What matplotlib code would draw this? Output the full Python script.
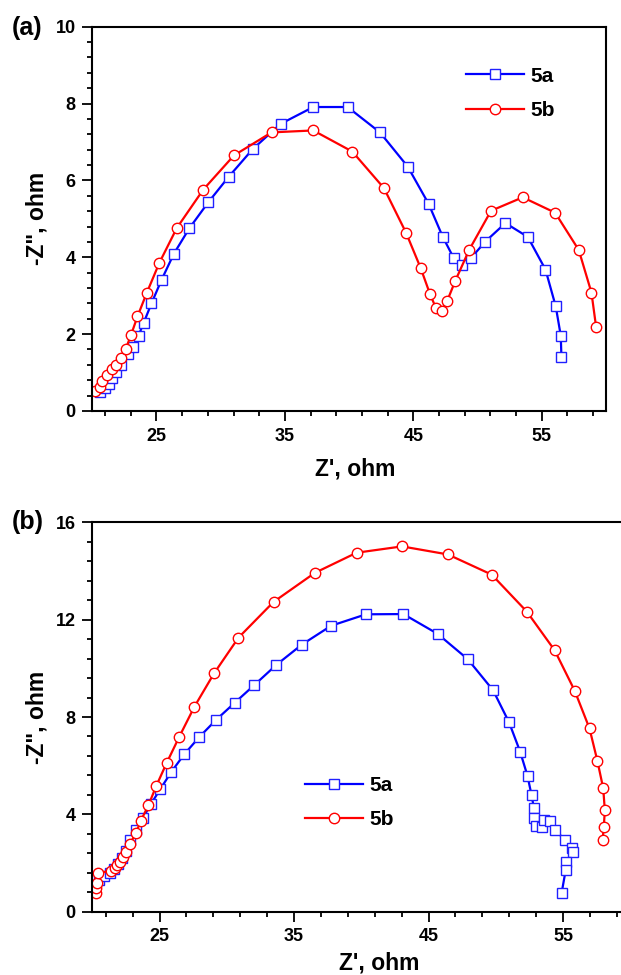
import numpy as np
import matplotlib
matplotlib.use("Agg")
import matplotlib.pyplot as plt
from matplotlib.ticker import FixedLocator, MultipleLocator

# panel (a) data
a_5a_x = [20.58, 20.96, 21.28, 21.54, 21.87, 22.26, 22.78, 23.17, 23.60, 24.01, 24.61,
          25.39, 26.35, 27.57, 29.03, 30.61, 32.48, 34.66, 37.21, 39.88, 42.40, 44.56,
          46.19, 47.28, 48.14, 48.79, 49.49, 50.61, 52.17, 53.91, 55.29, 56.09, 56.48, 56.53]
a_5a_y = [0.50, 0.59, 0.70, 0.85, 1.02, 1.20, 1.48, 1.67, 1.96, 2.30, 2.80,
          3.41, 4.09, 4.76, 5.43, 6.09, 6.81, 7.47, 7.91, 7.91, 7.25, 6.36,
          5.39, 4.54, 3.98, 3.80, 3.98, 4.41, 4.89, 4.53, 3.68, 2.72, 1.96, 1.41]

a_5b_x = [20.19, 20.60, 20.73, 21.12, 21.51, 21.85, 22.24, 22.60, 23.02, 23.52, 24.25,
          25.23, 26.58, 28.64, 31.03, 33.96, 37.21, 40.25, 42.71, 44.43, 45.57, 46.30,
          46.77, 47.20, 47.62, 48.27, 49.36, 51.05, 53.52, 56.04, 57.88, 58.87, 59.23]
a_5b_y = [0.53, 0.63, 0.78, 0.94, 1.09, 1.20, 1.37, 1.61, 1.98, 2.46, 3.08,
          3.86, 4.76, 5.76, 6.65, 7.25, 7.30, 6.75, 5.80, 4.64, 3.72, 3.04,
          2.67, 2.61, 2.85, 3.39, 4.20, 5.21, 5.56, 5.16, 4.19, 3.08, 2.19]

# panel (b) data
b_5a_x = [20.5, 20.9, 21.3, 21.6, 21.9, 22.2, 22.5, 22.8, 23.23, 23.78, 24.35, 25.05,
          25.87, 26.84, 27.96, 29.20, 30.60, 32.06, 33.68, 35.57, 37.76, 40.35, 43.13,
          45.67, 47.91, 49.80, 50.99, 51.81, 52.36, 52.66, 52.84, 52.86, 52.99, 53.41,
          53.61, 54.03, 54.40, 55.15, 55.65, 55.72, 55.20, 55.20, 54.90]
b_5a_y = [1.30, 1.45, 1.60, 1.75, 1.95, 2.20, 2.50, 2.95, 3.36, 3.86, 4.42, 5.03,
          5.74, 6.47, 7.18, 7.88, 8.59, 9.32, 10.14, 10.97, 11.75, 12.22, 12.23,
          11.42, 10.38, 9.10, 7.78, 6.58, 5.58, 4.79, 4.25, 3.86, 3.52, 3.49,
          3.77, 3.74, 3.36, 2.95, 2.60, 2.44, 2.05, 1.71, 0.78]

b_5b_x = [20.30, 20.30, 20.37, 20.43, 21.42, 21.67, 21.87, 22.04, 22.29, 22.54, 22.79,
          23.24, 23.61, 24.18, 24.75, 25.52, 26.47, 27.59, 29.05, 30.87, 33.48, 36.54,
          39.65, 43.03, 46.44, 49.70, 52.31, 54.38, 55.87, 56.97, 57.56, 57.99, 58.11,
          58.03, 57.94]
b_5b_y = [0.76, 0.96, 1.17, 1.58, 1.69, 1.79, 1.93, 2.06, 2.26, 2.47, 2.78,
          3.22, 3.74, 4.38, 5.16, 6.10, 7.19, 8.42, 9.79, 11.26, 12.73, 13.92,
          14.75, 15.01, 14.68, 13.85, 12.33, 10.74, 9.08, 7.53, 6.19, 5.07, 4.16,
          3.47, 2.95]

labels = ["5a", "5b"]
x_major = [25, 35, 45, 55]
x_minor = list(range(21, 60, 2))

plt.rcParams["font.family"] = ["Liberation Sans", "DejaVu Sans"]
plt.rcParams["font.weight"] = "bold"

fig = plt.figure(figsize=(6.21, 9.75), dpi=100)
ax_a = fig.add_axes([0.1486, 0.5785, 0.8272, 0.3941])
ax_b = fig.add_axes([0.1486, 0.0649, 0.8663, 0.3994])


def style(ax, ymax, ymaj, ymin, label_x, label_y, ylab_x):
    ax.set_xlim(20, 60)
    ax.set_ylim(0, ymax)
    ax.xaxis.set_major_locator(FixedLocator(x_major))
    ax.xaxis.set_minor_locator(FixedLocator(x_minor))
    ax.yaxis.set_major_locator(MultipleLocator(ymaj))
    ax.yaxis.set_minor_locator(MultipleLocator(ymin))
    ax.tick_params(which="major", direction="out", length=7, width=1.3,
                   labelsize=13, pad=5)
    ax.tick_params(which="minor", direction="out", length=3.7, width=1.3)
    for lab in ax.get_xticklabels() + ax.get_yticklabels():
        lab.set_fontweight("bold")
    for sp in ax.spines.values():
        sp.set_linewidth(1.5)
    ax.set_xlabel("Z', ohm", fontsize=16.5, fontweight="bold")
    ax.set_ylabel('-Z", ohm', fontsize=16.5, fontweight="bold")
    ax.xaxis.set_label_coords(label_x, label_y)
    ax.yaxis.set_label_coords(ylab_x, 0.5)


def curves(ax, cur):
    ax.plot(cur[0], cur[1], color="#0000ff", lw=1.6, marker="s", ms=6.5,
            mfc="white", mec="#2020ff", mew=1.0, label=labels[0])
    ax.plot(cur[2], cur[3], color="#ff0000", lw=1.6, marker="o", ms=7.5,
            mfc="white", mec="#ff0000", mew=1.0, label=labels[1])


curves(ax_a, (a_5a_x, a_5a_y, a_5b_x, a_5b_y))
style(ax_a, 10, 2, 0.4, 0.511, -0.12, -0.086)
ax_a.legend(loc="center left", bbox_to_anchor=(0.727, 0.8265), frameon=False,
            handlelength=2.8, handletextpad=0.3, labelspacing=0.75,
            borderpad=0, borderaxespad=0, prop={"weight": "bold", "size": 15})

curves(ax_b, (b_5a_x, b_5a_y, b_5b_x, b_5b_y))
style(ax_b, 16, 4, 0.8, 0.533, -0.102, -0.082)
ax_b.legend(loc="center left", bbox_to_anchor=(0.395, 0.28), frameon=False,
            handlelength=2.8, handletextpad=0.3, labelspacing=0.75,
            borderpad=0, borderaxespad=0, prop={"weight": "bold", "size": 15})

fig.text(11.7 / 621, 1 - 28 / 975, "(a)", fontsize=18, fontweight="bold",
         ha="left", va="center")
fig.text(11.7 / 621, 1 - 521.7 / 975, "(b)", fontsize=18, fontweight="bold",
         ha="left", va="center")

fig.savefig("out.png", dpi=100)
